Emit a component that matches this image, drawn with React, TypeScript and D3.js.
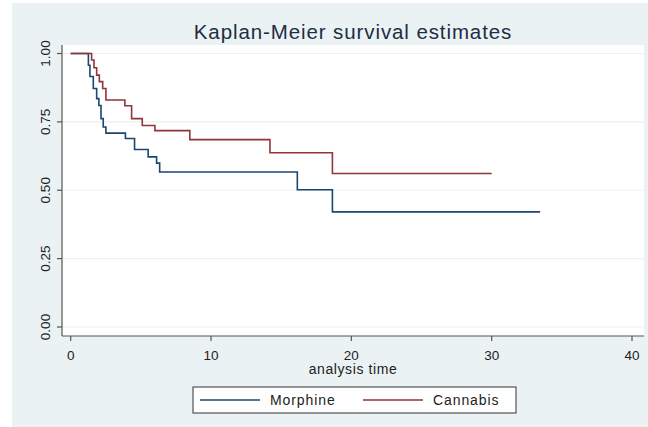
import React from "react";
import * as d3 from "d3";

const morphineTimes = [0, 1.26, 1.37, 1.61, 1.85, 2.01, 2.16, 2.32, 2.51, 3.9, 4.55, 5.52, 6.12, 6.34, 16.15, 18.65, 33.45];
const morphineSurv = [1, 0.957, 0.916, 0.872, 0.835, 0.81, 0.762, 0.731, 0.709, 0.689, 0.649, 0.622, 0.599, 0.567, 0.502, 0.421, 0.421];

const cannabisTimes = [0, 1.49, 1.66, 1.85, 2.04, 2.28, 2.51, 3.86, 4.34, 5.1, 6.0, 8.49, 14.2, 18.65, 30.0];
const cannabisSurv = [1, 0.976, 0.948, 0.921, 0.897, 0.872, 0.83, 0.809, 0.762, 0.737, 0.718, 0.685, 0.637, 0.561, 0.561];

const xTicks = [0, 10, 20, 30, 40];
const yTicks = [0, 0.25, 0.5, 0.75, 1];
const yTickLabels = ["0.00", "0.25", "0.50", "0.75", "1.00"];

const series = [
  { name: "Morphine", times: morphineTimes, surv: morphineSurv, color: "#1a476f" },
  { name: "Cannabis", times: cannabisTimes, surv: cannabisSurv, color: "#90353b" },
];

const FONT = "'Liberation Sans', Arial, sans-serif";

export default function App() {
  const W = 648, H = 427;
  const plotL = 62, plotR = 644, plotT = 45, plotB = 336;
  const x = d3.scaleLinear().domain([0, 40]).range([70.7, 632]);
  const y = d3.scaleLinear().domain([0, 1]).range([327, 53.5]);
  const line = d3
    .line<[number, number]>()
    .x((d) => x(d[0]))
    .y((d) => y(d[1]))
    .curve(d3.curveStepAfter);
  const axisColor = "#555555";
  const textColor = "#222222";
  return (
    <svg width={W} height={H} style={{ position: "absolute", left: 0, top: 0 }} fontFamily={FONT}>
      <rect x={0} y={0} width={W} height={H} fill="#ffffff" />
      <rect x={12} y={3} width={W - 12} height={H - 3} fill="#eaf2f3" />
      <rect x={plotL} y={plotT} width={plotR - plotL} height={plotB - plotT} fill="#ffffff" />
      {yTicks.map((t) => (
        <line key={"g" + t} x1={plotL} x2={plotR} y1={y(t)} y2={y(t)} stroke="#eaf2f3" strokeWidth={1.2} />
      ))}
      {series.map((s) => (
        <path
          key={s.name}
          d={line(s.times.map((t, i) => [t, s.surv[i]] as [number, number])) || ""}
          fill="none"
          stroke={s.color}
          strokeWidth={1.6}
        />
      ))}
      <line x1={plotL} x2={plotL} y1={plotT} y2={plotB} stroke={axisColor} strokeWidth={1.2} />
      <line x1={plotL} x2={plotR} y1={plotB} y2={plotB} stroke={axisColor} strokeWidth={1.2} />
      {yTicks.map((t, i) => (
        <g key={"y" + t}>
          <line x1={plotL - 5} x2={plotL} y1={y(t)} y2={y(t)} stroke={axisColor} strokeWidth={1.2} />
          <text
            transform={`translate(${plotL - 17},${y(t)}) rotate(-90)`}
            textAnchor="middle"
            fontSize={13.5}
            fill={textColor}
            dominantBaseline="central"
          >
            {yTickLabels[i]}
          </text>
        </g>
      ))}
      {xTicks.map((t) => (
        <g key={"x" + t}>
          <line x1={x(t)} x2={x(t)} y1={plotB} y2={plotB + 5} stroke={axisColor} strokeWidth={1.2} />
          <text x={x(t)} y={plotB + 19} textAnchor="middle" fontSize={13.5} fill={textColor} dominantBaseline="central">
            {t}
          </text>
        </g>
      ))}
      <text x={353} y={369} textAnchor="middle" fontSize={14} letterSpacing={0.6} fill={textColor} dominantBaseline="central">
        analysis time
      </text>
      <text x={353} y={31} textAnchor="middle" fontSize={20.5} letterSpacing={0.9} fill="#1e2d45" dominantBaseline="central">
        Kaplan-Meier survival estimates
      </text>
      <rect x={193} y={387} width={323} height={26} fill="#ffffff" stroke="#333333" strokeWidth={1} />
      <line x1={200} x2={260} y1={400} y2={400} stroke={series[0].color} strokeWidth={1.6} />
      <text x={270} y={400} fontSize={14} letterSpacing={0.9} fill={textColor} dominantBaseline="central">
        {series[0].name}
      </text>
      <line x1={363} x2={423} y1={400} y2={400} stroke={series[1].color} strokeWidth={1.6} />
      <text x={433} y={400} fontSize={14} letterSpacing={0.9} fill={textColor} dominantBaseline="central">
        {series[1].name}
      </text>
    </svg>
  );
}
